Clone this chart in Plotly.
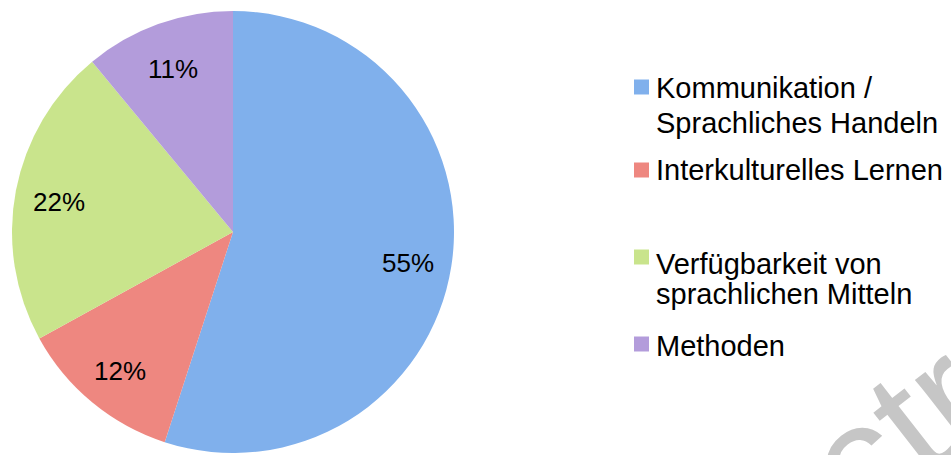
import math
import plotly.graph_objects as go

# Chart data
categories = [
    "Kommunikation /<br>Sprachliches Handeln",
    "Interkulturelles Lernen",
    "Verfügbarkeit von<br>sprachlichen Mitteln",
    "Methoden",
]
shares = [55, 12, 22, 11]
slice_colors = ["#80b0ec", "#ee8780", "#c9e48c", "#b39cdb"]

W, H = 951, 455
FONT = "Liberation Sans, Arial, Helvetica, sans-serif"

# Pie geometry (pixels)
cx, cy, R = 233, 232, 221

fig = go.Figure()
fig.add_trace(go.Pie(
    values=shares,
    labels=[c.replace("<br>", " ") for c in categories],
    sort=False,
    direction="clockwise",
    rotation=0,
    marker=dict(colors=slice_colors, line=dict(width=0)),
    textinfo="none",
    hoverinfo="label+percent",
    showlegend=False,
    domain=dict(x=[(cx - R) / W, (cx + R) / W],
                y=[1 - (cy + R) / H, 1 - (cy - R) / H]),
))

annotations = []

# Watermark lettering in the lower right corner
annotations.append(dict(
    x=896 / W, y=1 - 431 / H, xref="paper", yref="paper",
    text="ctr", showarrow=False, xanchor="center", yanchor="middle",
    textangle=-38,
    font=dict(family=FONT, size=160, color="#c6c6c6"),
))

# Percentage labels placed along each slice's mid-angle
total = sum(shares)
cum = 0
for v in shares:
    mid = (cum + v / 2) / total * 2 * math.pi
    cum += v
    r = 0.80 * R
    px = cx + r * math.sin(mid)
    py = cy - r * math.cos(mid) + 3
    annotations.append(dict(
        x=px / W, y=1 - py / H, xref="paper", yref="paper",
        text=f"{round(v / total * 100)}%", showarrow=False,
        xanchor="center", yanchor="middle",
        font=dict(family=FONT, size=26, color="#000000"),
    ))

# Legend: swatches and labels
legend_line_y = [[88, 123], [170], [264, 294], [346]]
swatch_y = [87, 170, 257, 344]
shapes = []
for i, cat in enumerate(categories):
    sy = swatch_y[i]
    shapes.append(dict(
        type="rect", xref="paper", yref="paper",
        x0=634 / W, x1=649 / W, y0=1 - (sy + 7.5) / H, y1=1 - (sy - 7.5) / H,
        fillcolor=slice_colors[i], line=dict(width=0),
    ))
    for line, ly in zip(cat.split("<br>"), legend_line_y[i]):
        annotations.append(dict(
            x=654 / W, y=1 - ly / H, xref="paper", yref="paper",
            text=line, showarrow=False, xanchor="left", yanchor="middle",
            font=dict(family=FONT, size=29, color="#000000"),
        ))

fig.update_layout(
    width=W, height=H,
    margin=dict(l=0, r=0, t=0, b=0),
    paper_bgcolor="#ffffff",
    plot_bgcolor="#ffffff",
    annotations=annotations,
    shapes=shapes,
)

fig.write_html("out.html")
